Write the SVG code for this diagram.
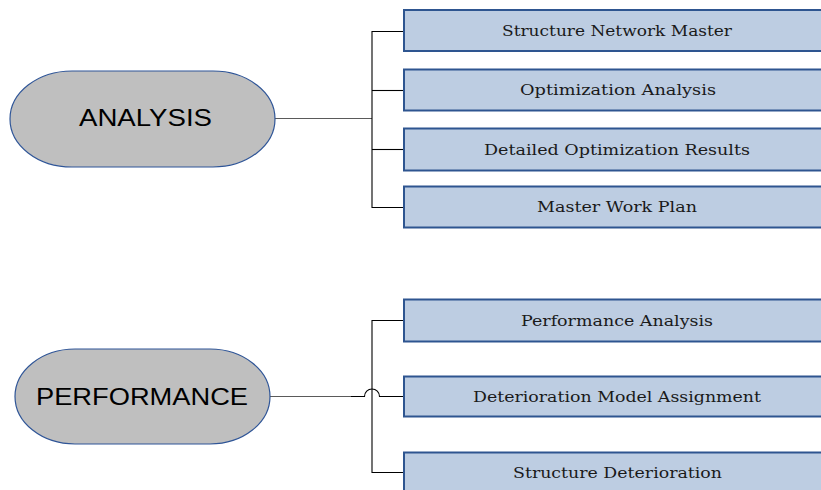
<svg xmlns="http://www.w3.org/2000/svg" width="821" height="490" viewBox="0 0 821 490">
  <style>
    .hub { fill: #bfbfbf; stroke: #2f5597; stroke-width: 1.2; }
    .hub-label { font-family: "Liberation Sans", Arial, sans-serif; font-size: 24px; fill: #000; text-anchor: middle; }
    .item { fill: #bdcde2; stroke: #2e5590; stroke-width: 2; }
    .item-label { font-family: "DejaVu Serif", "Liberation Serif", serif; font-size: 14px; fill: #1a1a1a; text-anchor: middle; }
    .trunk { fill: none; stroke: #5a5a5a; stroke-width: 1.2; }
    .branch { fill: none; stroke: #000; stroke-width: 1.1; }
  </style>

  <!-- connectors -->
  <g id="connectors">
    <!-- ANALYSIS tree -->
    <line class="trunk" x1="275" y1="118.5" x2="372" y2="118.5"/>
    <path class="branch" d="M403 31.5 H372 V207.5 H403"/>
    <line class="branch" x1="372" y1="90.5" x2="403" y2="90.5"/>
    <line class="branch" x1="372" y1="149.5" x2="403" y2="149.5"/>
    <!-- PERFORMANCE tree -->
    <path class="branch" d="M403 320.5 H372 V472.5 H403"/>
    <line class="trunk" x1="270" y1="396.5" x2="351" y2="396.5"/>
    <path class="branch" d="M351 396.5 H364.5 A7.5 7.5 0 0 1 379.5 396.5 H403"/>
  </g>

  <!-- hubs -->
  <g id="node-analysis">
    <rect class="hub" x="10" y="71" width="265" height="96" rx="62" ry="48"/>
    <text class="hub-label" x="145.5" y="126" textLength="133" lengthAdjust="spacingAndGlyphs">ANALYSIS</text>
  </g>
  <g id="node-performance">
    <rect class="hub" x="15" y="349" width="255" height="95" rx="60" ry="47.5"/>
    <text class="hub-label" x="142" y="404.5" textLength="212" lengthAdjust="spacingAndGlyphs">PERFORMANCE</text>
  </g>

  <!-- ANALYSIS items -->
  <g id="node-structure-network-master">
    <rect class="item" x="404" y="10" width="440" height="41"/>
    <text class="item-label" x="617" y="35.5" textLength="230" lengthAdjust="spacingAndGlyphs">Structure Network Master</text>
  </g>
  <g id="node-optimization-analysis">
    <rect class="item" x="404" y="69.5" width="440" height="41"/>
    <text class="item-label" x="618" y="95" textLength="196" lengthAdjust="spacingAndGlyphs">Optimization Analysis</text>
  </g>
  <g id="node-detailed-optimization-results">
    <rect class="item" x="404" y="128.5" width="440" height="42"/>
    <text class="item-label" x="617" y="154.5" textLength="266" lengthAdjust="spacingAndGlyphs">Detailed Optimization Results</text>
  </g>
  <g id="node-master-work-plan">
    <rect class="item" x="404" y="186.5" width="440" height="41"/>
    <text class="item-label" x="617" y="212" textLength="160" lengthAdjust="spacingAndGlyphs">Master Work Plan</text>
  </g>

  <!-- PERFORMANCE items -->
  <g id="node-performance-analysis">
    <rect class="item" x="404" y="299.5" width="440" height="42"/>
    <text class="item-label" x="617" y="325.5" textLength="192" lengthAdjust="spacingAndGlyphs">Performance Analysis</text>
  </g>
  <g id="node-deterioration-model-assignment">
    <rect class="item" x="404" y="376.5" width="440" height="40"/>
    <text class="item-label" x="617" y="401.5" textLength="288" lengthAdjust="spacingAndGlyphs">Deterioration Model Assignment</text>
  </g>
  <g id="node-structure-deterioration">
    <rect class="item" x="404" y="452.5" width="440" height="45"/>
    <text class="item-label" x="617.5" y="478" textLength="209" lengthAdjust="spacingAndGlyphs">Structure Deterioration</text>
  </g>
</svg>
